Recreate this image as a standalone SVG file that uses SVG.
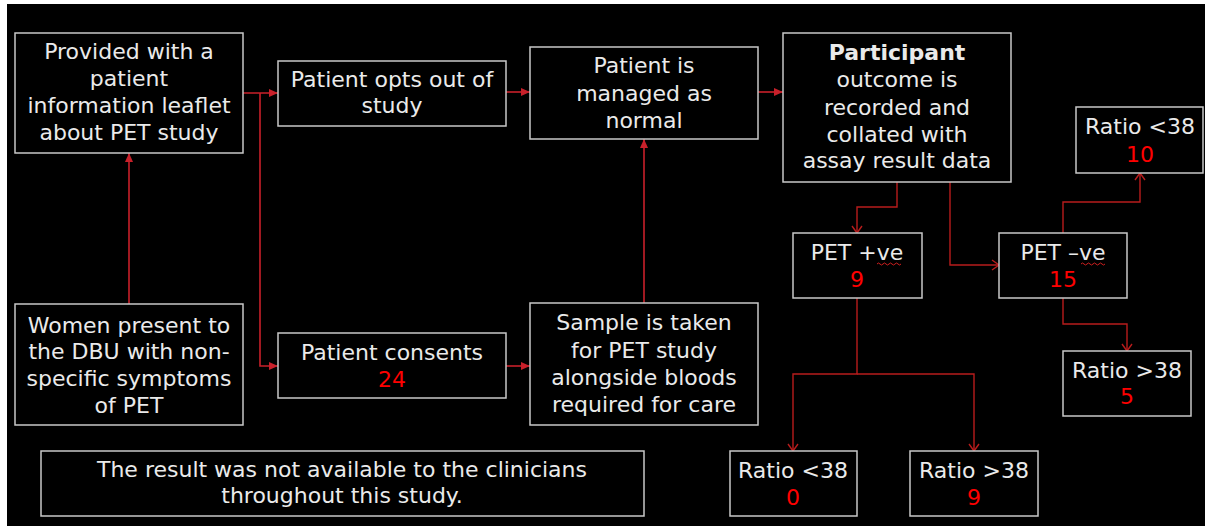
<svg xmlns="http://www.w3.org/2000/svg" width="1205" height="526" viewBox="0 0 1205 526">
<style>
.box{fill:#000;stroke:#C8C8C8;stroke-width:1.5}
.t{font-family:"DejaVu Sans","Liberation Sans",sans-serif;font-size:22px;fill:#EAEAEA;text-anchor:middle}
.n{fill:#FF0000}
.b{font-weight:bold}
.c1{fill:none;stroke:#C8202A;stroke-width:1.6;marker-end:url(#fa)}
.c2{fill:none;stroke:#B81C1C;stroke-width:1.4;marker-end:url(#oa)}
.sq{fill:none;stroke:#D02020;stroke-width:1}
</style>
<defs>
<marker id="fa" markerUnits="userSpaceOnUse" markerWidth="10" markerHeight="10" refX="9" refY="4" orient="auto"><path d="M0,0 L9,4 L0,8 z" fill="#C8202A"/></marker>
<marker id="oa" markerUnits="userSpaceOnUse" markerWidth="12" markerHeight="12" refX="8" refY="6" orient="auto"><path d="M1,1 L8,6 L1,11" fill="none" stroke="#B81C1C" stroke-width="1.4"/></marker>
</defs>
<rect x="0" y="0" width="1205" height="526" fill="#FFFFFF"/>
<rect x="7" y="4" width="1198" height="522" fill="#000000"/>
<g id="connectors">
<path class="c1" d="M129,304 V153"/>
<path class="c1" d="M243,93 H278"/>
<path class="c1" d="M260,93 V366 H278"/>
<path class="c1" d="M506,92 H530"/>
<path class="c1" d="M758,92 H783"/>
<path class="c1" d="M506,366 H530"/>
<path class="c1" d="M644,303 V139"/>
<path class="c2" d="M897,182 V207 H857 V233"/>
<path class="c2" d="M950,182 V265 H999"/>
<path class="c2" d="M1063,233 V202 H1140 V173"/>
<path class="c2" d="M1063,298 V324 H1127 V351"/>
<path class="c2" d="M857,298 V374 H793 V451"/>
<path class="c2" d="M857,374 H974 V451"/>
</g>
<g id="leaflet">
<rect class="box" x="15" y="33" width="228" height="120"/>
<text class="t" x="129" y="59">Provided with a</text>
<text class="t" x="129" y="86">patient</text>
<text class="t" x="129" y="113">information leaflet</text>
<text class="t" x="129" y="140">about PET study</text>
</g>
<g id="women">
<rect class="box" x="15" y="304" width="228" height="121"/>
<text class="t" x="129" y="333">Women present to</text>
<text class="t" x="129" y="359">the DBU with non-</text>
<text class="t" x="129" y="386">specific symptoms</text>
<text class="t" x="129" y="413">of PET</text>
</g>
<g id="optout">
<rect class="box" x="278" y="61" width="228" height="65"/>
<text class="t" x="392" y="87">Patient opts out of</text>
<text class="t" x="392" y="113">study</text>
</g>
<g id="managed">
<rect class="box" x="530" y="47" width="228" height="92"/>
<text class="t" x="644" y="73">Patient is</text>
<text class="t" x="644" y="101">managed as</text>
<text class="t" x="644" y="128">normal</text>
</g>
<g id="consents">
<rect class="box" x="278" y="333" width="228" height="65"/>
<text class="t" x="392" y="360">Patient consents</text>
<text class="t n" x="392" y="387">24</text>
</g>
<g id="sample">
<rect class="box" x="530" y="303" width="228" height="122"/>
<text class="t" x="644" y="330">Sample is taken</text>
<text class="t" x="644" y="358">for PET study</text>
<text class="t" x="644" y="385">alongside bloods</text>
<text class="t" x="644" y="412">required for care</text>
</g>
<g id="participant">
<rect class="box" x="783" y="33" width="228" height="149"/>
<text class="t b" x="897" y="60">Participant</text>
<text class="t" x="897" y="87">outcome is</text>
<text class="t" x="897" y="115">recorded and</text>
<text class="t" x="897" y="142">collated with</text>
<text class="t" x="897" y="168">assay result data</text>
</g>
<g id="ratio-lt-10">
<rect class="box" x="1076" y="107" width="127" height="66"/>
<text class="t" x="1140" y="134">Ratio &lt;38</text>
<text class="t n" x="1140" y="162">10</text>
</g>
<g id="pet-pos">
<rect class="box" x="793" y="233" width="129" height="65"/>
<text class="t" x="857" y="260">PET +ve</text>
<path class="sq" d="M877,264 q1.5,-2 3,0 t3,0 t3,0 t3,0 t3,0 t3,0 t3,0 t3,0"/>
<text class="t n" x="857" y="287">9</text>
</g>
<g id="pet-neg">
<rect class="box" x="999" y="233" width="128" height="65"/>
<text class="t" x="1063" y="260">PET –ve</text>
<path class="sq" d="M1081,264 q1.5,-2 3,0 t3,0 t3,0 t3,0 t3,0 t3,0 t3,0 t3,0"/>
<text class="t n" x="1063" y="287">15</text>
</g>
<g id="ratio-gt-5">
<rect class="box" x="1063" y="351" width="128" height="65"/>
<text class="t" x="1127" y="378">Ratio &gt;38</text>
<text class="t n" x="1127" y="404">5</text>
</g>
<g id="ratio-lt-0">
<rect class="box" x="730" y="451" width="127" height="65"/>
<text class="t" x="793" y="478">Ratio &lt;38</text>
<text class="t n" x="793" y="505">0</text>
</g>
<g id="ratio-gt-9">
<rect class="box" x="910" y="451" width="128" height="65"/>
<text class="t" x="974" y="478">Ratio &gt;38</text>
<text class="t n" x="974" y="505">9</text>
</g>
<g id="note">
<rect class="box" x="41" y="451" width="603" height="65"/>
<text class="t" x="342" y="477">The result was not available to the clinicians</text>
<text class="t" x="342" y="503">throughout this study.</text>
</g>
</svg>
